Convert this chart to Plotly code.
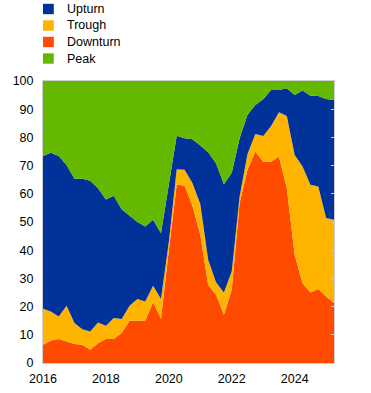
import plotly.graph_objects as go

# Quarterly observations, 2016 Q1 to 2025 Q2
years = [2016]*4 + [2017]*4 + [2018]*4 + [2019]*4 + [2020]*4 + [2021]*4 + [2022]*4 + [2023]*4 + [2024]*4 + [2025]*2
quarters = [1, 2, 3, 4]*9 + [1, 2]

downturn = [6.5, 8.0, 8.5, 7.7, 6.7, 6.5, 4.7, 7.0, 8.5, 8.5, 10.6, 15.0, 15.0, 15.0, 21.5, 15.7,
            40.0, 63.2, 62.9, 55.8, 45.5, 27.7, 24.2, 17.1, 26.0, 56.7, 68.5, 75.0, 71.4, 71.4,
            73.2, 62.0, 38.4, 28.3, 25.0, 26.2, 23.6, 21.3]
trough = [12.7, 10.3, 8.0, 12.6, 7.5, 5.5, 6.5, 7.4, 4.7, 7.5, 5.0, 5.3, 7.7, 6.8, 5.9, 7.0,
          3.0, 5.5, 5.6, 8.0, 10.9, 8.9, 4.4, 7.9, 6.5, 2.3, 5.6, 6.2, 9.1, 12.6,
          15.7, 25.6, 35.4, 41.4, 38.2, 36.4, 27.8, 29.5]
upturn = [54.2, 56.3, 56.9, 49.9, 51.1, 53.3, 53.4, 47.6, 44.8, 43.3, 38.9, 32.0, 27.3, 26.6, 23.4, 23.3,
          20.0, 11.9, 11.2, 15.5, 20.7, 38.1, 42.2, 38.4, 35.0, 20.7, 13.9, 10.3, 13.0, 12.8,
          7.9, 9.8, 21.2, 26.9, 31.6, 32.1, 42.2, 42.5]
peak = [26.6, 25.4, 26.6, 29.8, 34.7, 34.7, 35.4, 38.0, 42.0, 40.7, 45.5, 47.7, 50.0, 51.6, 49.2, 54.0,
        37.0, 19.4, 20.3, 20.7, 22.9, 25.3, 29.2, 36.6, 32.5, 20.3, 12.0, 8.5, 6.5, 3.2,
        3.2, 2.6, 5.0, 3.4, 5.2, 5.3, 6.4, 6.7]

legend_names = ["Upturn", "Trough", "Downturn", "Peak"]
tick_years = [2016, 2018, 2020, 2022, 2024]
y_ticks = list(range(0, 101, 10))

colors = {"Upturn": "#003299", "Trough": "#FFB400", "Downturn": "#FF4B00", "Peak": "#65B800"}

x = [y + (q - 1) / 4 for y, q in zip(years, quarters)]

FONT = "Arial, Liberation Sans, sans-serif"
TXT = "#000000"
W, H = 371, 393
ML, MR, MT, MB = 43, 37, 81, 30
PW, PH = W - ML - MR, H - MT - MB

fig = go.Figure()

# stacked areas (bottom to top)
for name, vals in [("Downturn", downturn), ("Trough", trough), ("Upturn", upturn), ("Peak", peak)]:
    fig.add_trace(go.Scatter(
        x=x, y=vals, name=name, stackgroup="one", mode="lines",
        line=dict(width=0, color=colors[name]), fillcolor=colors[name],
        showlegend=False, hoverinfo="x+y+name"))

# right-side inward ticks
fig.add_trace(go.Scatter(x=[None], y=[None], yaxis="y2", showlegend=False))

# legend block (square swatches + labels) placed above the plot area
shapes, annotations = [], []
row_px = [9, 25.5, 42, 58.5]
for name, cy in zip(legend_names, row_px):
    y0 = (H - MB - (cy + 5.2)) / PH
    y1 = (H - MB - (cy - 5.2)) / PH
    shapes.append(dict(type="rect", xref="paper", yref="paper",
                       x0=0, x1=10.8 / PW, y0=y0, y1=y1,
                       fillcolor=colors[name], line=dict(width=0)))
    annotations.append(dict(text=name, xref="paper", yref="paper",
                            x=(65 - ML) / PW, y=(H - MB - cy) / PH,
                            xanchor="left", yanchor="middle", showarrow=False,
                            font=dict(family=FONT, size=12.5, color=TXT)))

fig.update_layout(
    width=W, height=H,
    margin=dict(l=ML, r=MR, t=MT, b=MB, autoexpand=False),
    paper_bgcolor="white", plot_bgcolor="white",
    font=dict(family=FONT, size=12.5, color=TXT),
    showlegend=False,
    shapes=shapes, annotations=annotations,
    xaxis=dict(range=[2016, 2025.25], tickmode="array", tickvals=tick_years,
               ticktext=[str(t) for t in tick_years], showgrid=False, zeroline=False,
               showline=True, linecolor="#d0d0d0", linewidth=1, mirror=True,
               automargin=False, ticks="", ticklabelstandoff=4,
               tickfont=dict(size=12.5, color=TXT)),
    yaxis=dict(range=[0, 100], tickmode="array", tickvals=y_ticks, showgrid=False,
               zeroline=False, showline=True, linecolor="#d0d0d0", linewidth=1,
               mirror=True, automargin=False, ticks="", ticklabelstandoff=6,
               tickfont=dict(size=12.5, color=TXT)),
    yaxis2=dict(range=[0, 100], overlaying="y", side="right", tickmode="array",
                tickvals=y_ticks, showticklabels=False, showgrid=False, zeroline=False,
                automargin=False, ticks="inside", ticklen=3, tickcolor="#c8c8c8",
                showline=False),
)

fig.write_html("out.html", config={"displayModeBar": False},
               post_script="document.body.style.margin='0';")
